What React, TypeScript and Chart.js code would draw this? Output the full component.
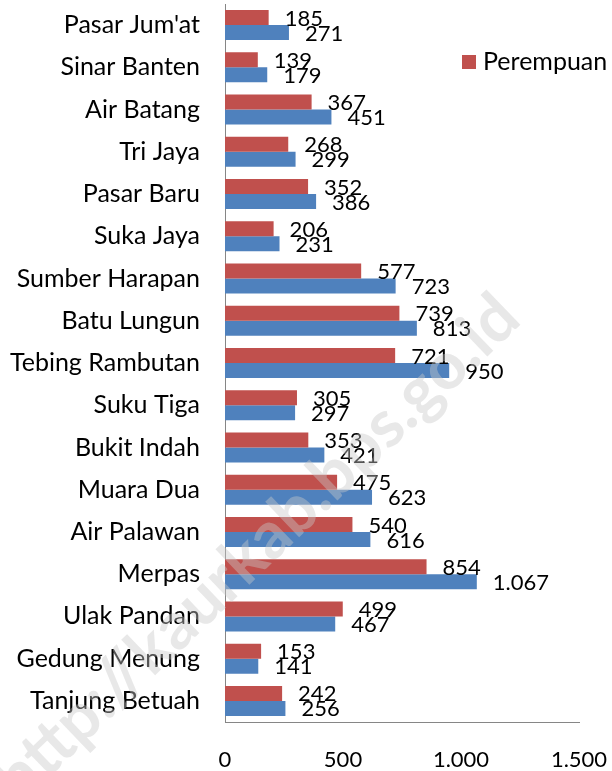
import React, { useEffect, useRef } from "react";
import { Chart, registerables } from "chart.js";

Chart.register(...registerables);

const categories = [
  "Pasar Jum'at", "Sinar Banten", "Air Batang", "Tri Jaya", "Pasar Baru", "Suka Jaya",
  "Sumber Harapan", "Batu Lungun", "Tebing Rambutan", "Suku Tiga", "Bukit Indah",
  "Muara Dua", "Air Palawan", "Merpas", "Ulak Pandan", "Gedung Menung", "Tanjung Betuah",
];
const perempuan = [185, 139, 367, 268, 352, 206, 577, 739, 721, 305, 353, 475, 540, 854, 499, 153, 242];
const lakiLaki = [271, 179, 451, 299, 386, 231, 723, 813, 950, 297, 421, 623, 616, 1067, 467, 141, 256];
const xTicks = [0, 500, 1000, 1500];

const FONT = "Lato, 'Open Sans', sans-serif";
const fmt = (v: number) => String(Math.round(v)).replace(/\B(?=(\d{3})+(?!\d))/g, ".");

const labelPlugin = {
  id: "valueLabels",
  afterDatasetsDraw(chart: any) {
    const ctx = chart.ctx;
    ctx.save();
    ctx.font = `22px ${FONT}`;
    ctx.fillStyle = "#000";
    ctx.textBaseline = "middle";
    ctx.textAlign = "left";
    chart.data.datasets.forEach((ds: any, di: number) => {
      const meta = chart.getDatasetMeta(di);
      meta.data.forEach((bar: any, i: number) => {
        ctx.fillText(fmt(ds.data[i]), bar.x + 16, bar.y + 1);
      });
    });
    ctx.restore();
  },
};

const legendPlugin = {
  id: "customLegend",
  afterDraw(chart: any) {
    const ctx = chart.ctx;
    const ds = chart.data.datasets[0];
    const x = chart.chartArea.right - 117;
    const y = chart.chartArea.top + 58;
    ctx.save();
    ctx.fillStyle = ds.backgroundColor;
    ctx.fillRect(x, y - 7, 14, 14);
    ctx.font = `25px ${FONT}`;
    ctx.fillStyle = "#000";
    ctx.textBaseline = "middle";
    ctx.textAlign = "left";
    ctx.fillText(ds.label, x + 21, y);
    ctx.restore();
  },
};

const watermarkPlugin = {
  id: "watermark",
  afterDraw(chart: any) {
    const ctx = chart.ctx;
    ctx.save();
    ctx.translate(5, 790);
    ctx.rotate(-0.765);
    ctx.font = `bold 66px ${FONT}`;
    ctx.fillStyle = "rgba(200,200,200,0.42)";
    ctx.textBaseline = "middle";
    ctx.fillText("http://kaurkab.bps.go.id", 0, 0);
    ctx.restore();
  },
};

export default function App() {
  const ref = useRef<HTMLCanvasElement>(null);
  useEffect(() => {
    const chart = new Chart(ref.current!, {
      type: "bar",
      data: {
        labels: categories,
        datasets: [
          { label: "Perempuan", data: perempuan, backgroundColor: "#C0504D", borderWidth: 0 },
          { label: "Laki-laki", data: lakiLaki, backgroundColor: "#4F81BD", borderWidth: 0 },
        ],
      },
      options: {
        indexAxis: "y",
        animation: false,
        responsive: false,
        maintainAspectRatio: false,
        datasets: { bar: { categoryPercentage: 0.71, barPercentage: 1.0 } },
        layout: { padding: { top: 4, right: 33, left: 0, bottom: 0 } },
        plugins: { legend: { display: false }, tooltip: { enabled: false } },
        scales: {
          x: {
            min: 0,
            max: 1500,
            afterBuildTicks: (s: any) => { s.ticks = xTicks.map((v) => ({ value: v })); },
            afterFit: (s: any) => { s.height = 49; s.paddingLeft = 0; s.paddingRight = 0; },
            grid: { display: false, drawTicks: false },
            border: { display: true, color: "#868686", width: 1 },
            ticks: {
              padding: 25,
              color: "#000",
              font: { family: FONT, size: 22 },
              callback: (v: any) => fmt(Number(v)),
              maxRotation: 0,
            },
          },
          y: {
            afterFit: (s: any) => { s.width = 225; s.paddingTop = 0; s.paddingBottom = 0; },
            grid: { display: false, drawTicks: false },
            border: { display: true, color: "#868686", width: 1 },
            ticks: { padding: 25, autoSkip: false, color: "#000", font: { family: FONT, size: 25 } },
          },
        },
      },
      plugins: [labelPlugin, legendPlugin, watermarkPlugin],
    } as any);
    return () => chart.destroy();
  }, []);
  return (
    <div style={{ position: "absolute", left: 0, top: 0, width: 612, height: 771, background: "#fff" }}>
      <canvas ref={ref} width={612} height={771} style={{ width: 612, height: 771 }} />
    </div>
  );
}
